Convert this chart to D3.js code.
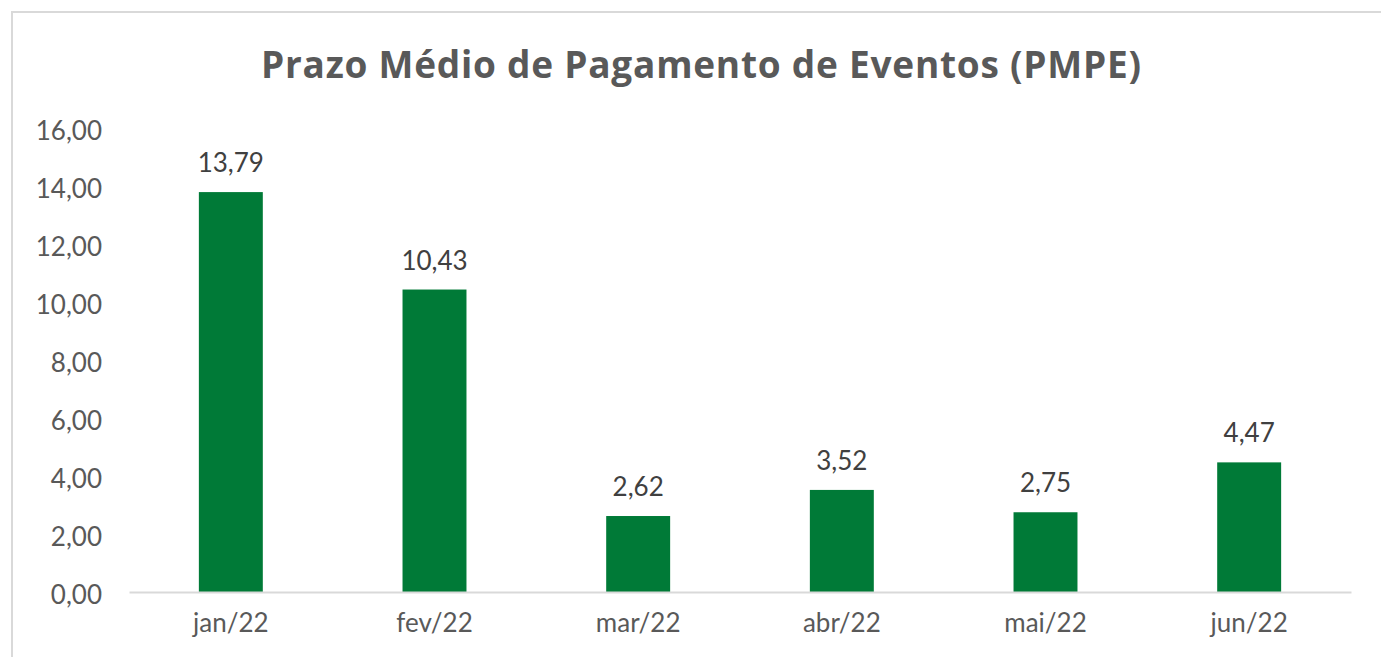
<!DOCTYPE html>
<html>
<head>
<meta charset="utf-8">
<script src="https://cdn.jsdelivr.net/npm/d3@7"></script>
<style>
	body { margin: 0; background: #fff; }
	svg { font-family: Lato, "Open Sans", sans-serif; }
</style>
</head>
<body>
<div id="graphsvg"></div>
<script>
var months = ["jan/22", "fev/22", "mar/22", "abr/22", "mai/22", "jun/22"]
var pmpe = [13.79, 10.43, 2.62, 3.52, 2.75, 4.47]
var yTicks = [0, 2, 4, 6, 8, 10, 12, 14, 16]

var width = 1381
var height = 657
var fmt = function (v) { return d3.format(".2f")(v).replace(".", ",") }

var svg = d3.select("#graphsvg")
	.append("svg")
	.attr("width", width)
	.attr("height", height)

// chart frame (light gray)
svg.append("path")
	.attr("d", "M12,657 L12,12 L1381,12")
	.attr("fill", "none")
	.attr("stroke", "#d9d9d9")
	.attr("stroke-width", 2)

svg.append("text")
	.text("Prazo Médio de Pagamento de Eventos (PMPE)")
	.attr("x", 701)
	.attr("y", 78)
	.attr("text-anchor", "middle")
	.attr("font-family", "'Open Sans', sans-serif")
	.attr("font-size", 37)
	.attr("font-weight", "bold")
	.attr("textLength", 880)
	.attr("lengthAdjust", "spacing")
	.attr("fill", "#595959")

var x = d3.scaleBand()
	.domain(months)
	.range([129, 1351])
	.paddingInner(0.686)
	.paddingOuter(0.343)

var y = d3.scaleLinear()
	.domain([0, 16])
	.range([592, 128])

// y axis labels, no line
var yAxis = svg.append("g")
	.attr("transform", "translate(102,0)")
	.call(d3.axisLeft(y).tickValues(yTicks).tickFormat(fmt).tickSize(0).tickPadding(0))
yAxis.select(".domain").remove()
yAxis.selectAll("text")
	.attr("font-size", 26)
	.attr("dy", "0.45em")
	.attr("fill", "#595959")
	.attr("font-family", "Lato, sans-serif")

svg.selectAll(".bar")
	.data(pmpe)
	.enter()
	.append("rect")
	.attr("class", "bar")
	.attr("x", function (d, i) { return x(months[i]) })
	.attr("y", function (d) { return y(d) })
	.attr("width", x.bandwidth())
	.attr("height", function (d) { return y(0) - y(d) })
	.attr("fill", "#007a37")

svg.selectAll(".lbl")
	.data(pmpe)
	.enter()
	.append("text")
	.attr("class", "lbl")
	.text(function (d) { return fmt(d) })
	.attr("x", function (d, i) { return x(months[i]) + x.bandwidth() / 2 })
	.attr("y", function (d) { return y(d) - 20 })
	.attr("text-anchor", "middle")
	.attr("font-size", 26)
	.attr("fill", "#404040")

// x axis baseline + labels
var xAxis = svg.append("g")
	.attr("transform", "translate(0," + y(0) + ")")
	.call(d3.axisBottom(x).tickSize(0).tickPadding(22))
xAxis.select(".domain")
	.attr("stroke", "#d9d9d9")
	.attr("stroke-width", 2)
xAxis.selectAll("text")
	.attr("font-size", 26)
	.attr("fill", "#595959")
	.attr("font-family", "Lato, sans-serif")
</script>
</body>
</html>
